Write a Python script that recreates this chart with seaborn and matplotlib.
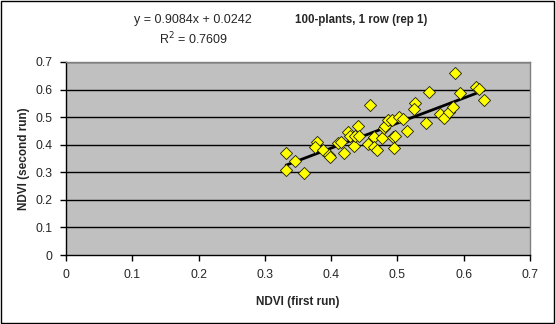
import matplotlib
matplotlib.use("Agg")
import matplotlib.pyplot as plt
import seaborn as sns
import numpy as np
import pandas as pd

ndvi_first = [0.332, 0.345, 0.332, 0.359, 0.378, 0.376, 0.387, 0.397, 0.399, 0.420,
              0.411, 0.415, 0.425, 0.428, 0.435, 0.436, 0.441, 0.442, 0.459, 0.456,
              0.464, 0.465, 0.469, 0.476, 0.479, 0.482, 0.486, 0.492, 0.503, 0.508,
              0.494, 0.497, 0.495, 0.515, 0.527, 0.525, 0.548, 0.543, 0.564, 0.571,
              0.578, 0.584, 0.587, 0.594, 0.619, 0.623, 0.631]
ndvi_second = [0.370, 0.341, 0.308, 0.296, 0.411, 0.391, 0.381, 0.364, 0.355, 0.369,
               0.405, 0.411, 0.447, 0.431, 0.396, 0.431, 0.469, 0.430, 0.544, 0.403,
               0.428, 0.391, 0.381, 0.423, 0.460, 0.468, 0.490, 0.490, 0.502, 0.492,
               0.427, 0.430, 0.388, 0.450, 0.550, 0.530, 0.590, 0.480, 0.510, 0.498,
               0.520, 0.538, 0.659, 0.587, 0.611, 0.601, 0.561]
slope = 0.9084
intercept = 0.0242
r_squared = 0.7609
ticks = [0, 0.1, 0.2, 0.3, 0.4, 0.5, 0.6, 0.7]
tick_labels = ["0", "0.1", "0.2", "0.3", "0.4", "0.5", "0.6", "0.7"]

df = pd.DataFrame({"x": ndvi_first, "y": ndvi_second})
xs = np.array([min(ndvi_first), max(ndvi_first)])
line_df = pd.DataFrame({"x": xs, "y": slope * xs + intercept})

sns.set_theme(style="white")
plt.rcParams["font.family"] = ["Liberation Sans", "DejaVu Sans"]

fig = plt.figure(figsize=(5.56, 3.24), dpi=100)
fig.patch.set_facecolor("white")
ax = fig.add_axes([66/556, 1-255/324, (530-66)/556, (255-62)/324])
ax.set_facecolor("#C0C0C0")

for t in ticks[1:]:
    ax.axhline(t, color="black", lw=1, zorder=1)

sns.lineplot(data=line_df, x="x", y="y", ax=ax, color="black", lw=2, zorder=2)
sns.scatterplot(data=df, x="x", y="y", ax=ax, marker="D", s=38, color="#FFFF00",
                edgecolor="#202000", linewidth=0.6, zorder=3)

ax.set_xlim(0, 0.7)
ax.set_ylim(0, 0.7)
ax.set_xticks(ticks)
ax.set_xticklabels(tick_labels)
ax.set_yticks(ticks)
ax.set_yticklabels(tick_labels)
ax.tick_params(axis="both", direction="out", length=4, width=1, color="black",
               labelsize=8.8, pad=6, bottom=True, left=True)
for side in ["top", "right"]:
    ax.spines[side].set_color("#808080")
    ax.spines[side].set_linewidth(1)
for side in ["bottom", "left"]:
    ax.spines[side].set_color("black")
    ax.spines[side].set_linewidth(1)

ax.set_xlabel("NDVI (first run)", fontsize=8.5, fontweight="bold", labelpad=11)
ax.set_ylabel("NDVI (second run)", fontsize=8.5, fontweight="bold", labelpad=4)

fig.text(193/556, 1-20/324, f"y = {slope}x + {intercept}", ha="center", va="center", fontsize=9)
fig.text(193/556, 1-39/324, f"R$^2$ = {r_squared}", ha="center", va="center", fontsize=9)
fig.text(361/556, 1-20/324, "100-plants, 1 row (rep 1)", ha="center", va="center",
         fontsize=8.3, fontweight="bold")

border = plt.Rectangle((0.002, 0.003), 0.995, 0.994, transform=fig.transFigure,
                       fill=False, edgecolor="black", lw=1)
fig.patches.append(border)

fig.savefig("out.png", dpi=100)
